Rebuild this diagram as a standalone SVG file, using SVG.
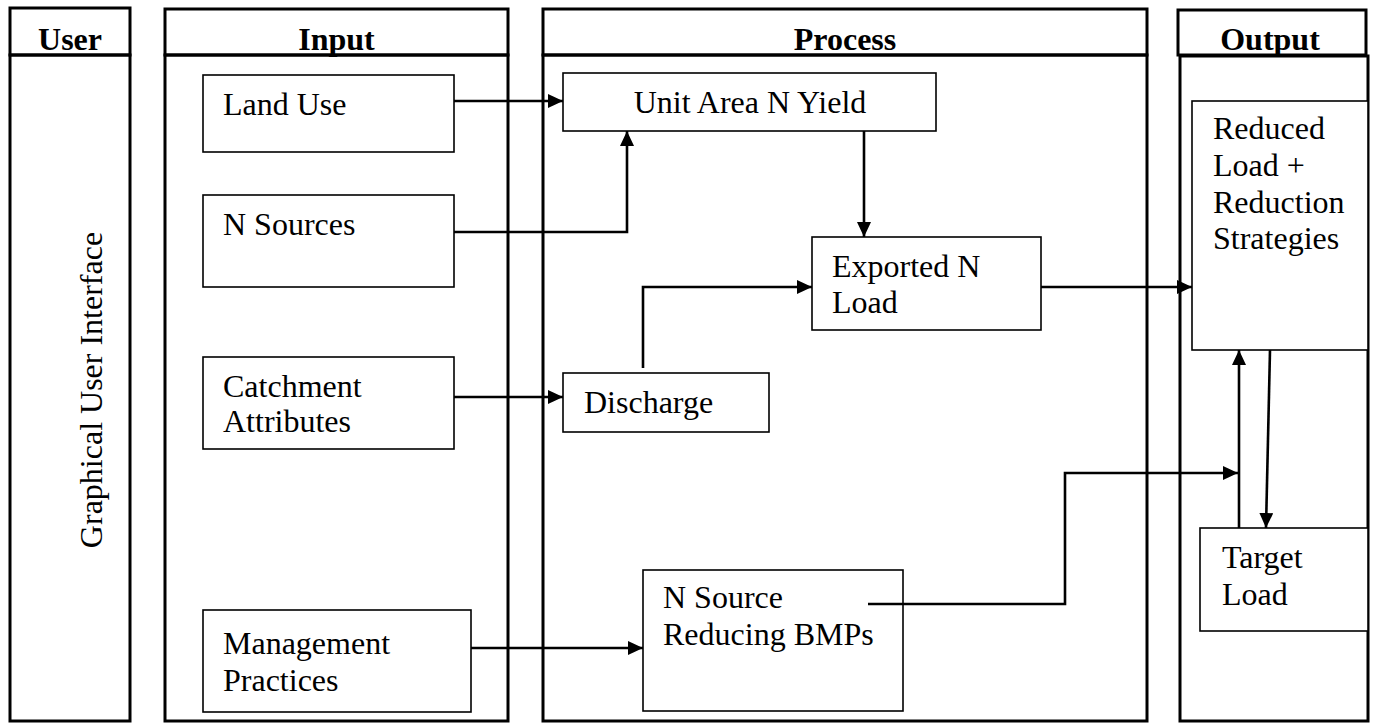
<svg xmlns="http://www.w3.org/2000/svg" width="1373" height="723" viewBox="0 0 1373 723">
<style>
.col{fill:none;stroke:#000;stroke-width:3}
.box{fill:#fff;stroke:#000;stroke-width:1.6}
.hd{font-family:'Liberation Serif',Tinos,'Times New Roman',Times,'Nimbus Roman',serif;font-size:32px;font-weight:bold;text-anchor:middle;fill:#000}
.t{font-family:'Liberation Serif',Tinos,'Times New Roman',Times,'Nimbus Roman',serif;font-size:32px;fill:#000}
.c{fill:none;stroke:#000;stroke-width:2.6}
</style>
<defs>
<marker id="ah" markerUnits="userSpaceOnUse" markerWidth="16" markerHeight="14" refX="15" refY="7" orient="auto">
<path d="M0,0 L15,7 L0,14 Z" fill="#000"/>
</marker>
</defs>
<rect width="1373" height="723" fill="#fff"/>
<g id="col-user">
<rect class="col" x="10" y="8" width="120" height="47"/>
<rect class="col" x="10" y="55" width="120" height="666"/>
<text class="hd" x="70" y="50">User</text>
<text class="t" text-anchor="middle" transform="translate(102,390) rotate(-90)">Graphical User Interface</text>
</g>
<g id="col-input">
<rect class="col" x="165" y="9" width="343" height="46"/>
<rect class="col" x="165" y="55" width="343" height="666"/>
<text class="hd" x="336.5" y="50">Input</text>
</g>
<g id="col-process">
<rect class="col" x="543" y="9" width="604" height="46"/>
<rect class="col" x="543" y="55" width="604" height="666"/>
<text class="hd" x="845" y="50">Process</text>
</g>
<g id="col-output">
<rect class="col" x="1178" y="10" width="188" height="45"/>
<rect class="col" x="1180" y="56" width="188" height="665"/>
<text class="hd" x="1270" y="50">Output</text>
</g>
<g id="n-landuse">
<rect class="box" x="203" y="75" width="251" height="77"/>
<text class="t" x="223" y="115">Land Use</text>
</g>
<g id="n-nsources">
<rect class="box" x="203" y="195" width="251" height="92"/>
<text class="t" x="223" y="235">N Sources</text>
</g>
<g id="n-catchment">
<rect class="box" x="203" y="357" width="251" height="92"/>
<text class="t" x="223" y="397">Catchment</text>
<text class="t" x="223" y="432">Attributes</text>
</g>
<g id="n-management">
<rect class="box" x="203" y="610" width="268" height="102"/>
<text class="t" x="223" y="654">Management</text>
<text class="t" x="223" y="691">Practices</text>
</g>
<g id="n-unitarea">
<rect class="box" x="563" y="73" width="373" height="58"/>
<text class="t" x="750" y="113" text-anchor="middle">Unit Area N Yield</text>
</g>
<g id="n-exported">
<rect class="box" x="812" y="237" width="229" height="93"/>
<text class="t" x="832" y="277">Exported N</text>
<text class="t" x="832" y="313">Load</text>
</g>
<g id="n-discharge">
<rect class="box" x="563" y="373" width="206" height="59"/>
<text class="t" x="584" y="413">Discharge</text>
</g>
<g id="n-bmps">
<rect class="box" x="643" y="570" width="260" height="141"/>
<text class="t" x="663" y="608">N Source</text>
<text class="t" x="663" y="645">Reducing BMPs</text>
</g>
<g id="n-reduced">
<rect class="box" x="1192" y="101" width="176" height="249"/>
<text class="t" x="1213" y="139">Reduced</text>
<text class="t" x="1213" y="176">Load +</text>
<text class="t" x="1213" y="213">Reduction</text>
<text class="t" x="1213" y="249">Strategies</text>
</g>
<g id="n-target">
<rect class="box" x="1200" y="528" width="168" height="103"/>
<text class="t" x="1222" y="568">Target</text>
<text class="t" x="1222" y="605">Load</text>
</g>
<g id="connectors">
<path class="c" d="M454 101 H563" marker-end="url(#ah)"/>
<path class="c" d="M454 232 H627 V131" marker-end="url(#ah)"/>
<path class="c" d="M454 397 H563" marker-end="url(#ah)"/>
<path class="c" d="M471 648 H643" marker-end="url(#ah)"/>
<path class="c" d="M643 368 V287 H812" marker-end="url(#ah)"/>
<path class="c" d="M864 131 V237" marker-end="url(#ah)"/>
<path class="c" d="M1041 287 H1192" marker-end="url(#ah)"/>
<path class="c" d="M868 604 H1065 V473 H1238" marker-end="url(#ah)"/>
<path class="c" d="M1239 528 V350" marker-end="url(#ah)"/>
<path class="c" d="M1270 350 L1266 528" marker-end="url(#ah)"/>
</g>
</svg>
